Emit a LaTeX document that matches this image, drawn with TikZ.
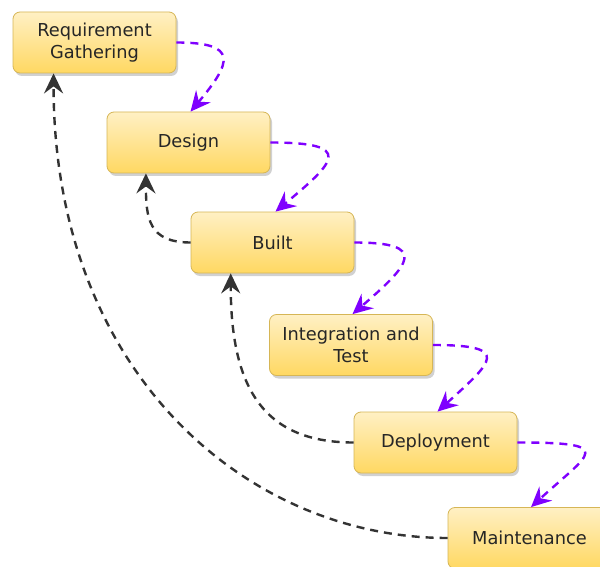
\documentclass[tikz,border=0pt]{standalone}
\usepackage{fontspec}
\setmainfont{DejaVu Sans}
\usetikzlibrary{arrows.meta,shadows,calc}
\definecolor{boxtop}{HTML}{FFF0C4}
\definecolor{boxbot}{HTML}{FFD862}
\definecolor{boxline}{HTML}{D6B656}
\definecolor{flowpurple}{HTML}{7F00FF}
\definecolor{backgray}{HTML}{333333}
\definecolor{txt}{HTML}{262626}
\tikzset{
  stagebox/.style={rectangle, rounded corners=7pt, draw=boxline, line width=0.8pt,
    top color=boxtop, bottom color=boxbot, minimum width=163pt, minimum height=61pt,
    inner sep=0pt, align=center, text=txt, font=\fontsize{17.8}{21.5}\selectfont,
    drop shadow={shadow xshift=2pt, shadow yshift=-3pt, opacity=0.18, fill=black}},
  fwd/.style={draw=flowpurple, line width=2.4pt, dash pattern=on 8pt off 6pt,
    -{Stealth[length=20pt, width=19pt, inset=7pt]}},
  back/.style={draw=backgray, line width=2.4pt, dash pattern=on 8pt off 6pt,
    -{Stealth[length=20pt, width=19pt, inset=7pt]}}
}
\begin{document}
\begin{tikzpicture}[x=1pt,y=-1pt]
\useasboundingbox[fill=white] (0,0) rectangle (600,567);
\node[stagebox] (req) at (94.5,42.5) {Requirement\\Gathering};
\node[stagebox] (design) at (188.5,142.5) {Design};
\node[stagebox] (built) at (272.5,242.5) {Built};
\node[stagebox] (integ) at (351,345) {Integration and\\Test};
\node[stagebox] (deploy) at (435.5,442.5) {Deployment};
\node[stagebox] (maint) at (529.5,538) {Maintenance};
\coordinate (t1) at ($(design.north)+(2,0)$);
\coordinate (t2) at ($(built.north)+(3,0)$);
\coordinate (t3) at ($(integ.north)+(1.5,0)$);
\coordinate (t4) at ($(deploy.north)+(2,0)$);
\coordinate (t5) at ($(maint.north)+(1.5,0)$);
\coordinate (b1) at ($(design.south west)!0.24!(design.south east)$);
\coordinate (b2) at ($(built.south west)!0.245!(built.south east)$);
\coordinate (b3) at ($(req.south west)!0.25!(req.south east)$);
\draw[fwd] (req.east) .. controls +(62,0) and +(42,-50) .. (t1);
\draw[fwd] (design.east) .. controls +(85,0) and +(60,-50) .. (t2);
\draw[fwd] (built.east) .. controls +(75,0) and +(58,-50) .. (t3);
\draw[fwd] (integ.east) .. controls +(80,0) and +(55,-50) .. (t4);
\draw[fwd] (deploy.east) .. controls +(100,0) and +(60,-55) .. (t5);
\draw[back] (built.west) .. controls +(-42,0) and +(0,45) .. (b1);
\draw[back] (deploy.west) .. controls +(-92,0) and +(0,112) .. (b2);
\draw[back] (maint.west) .. controls +(-200,0) and +(0,300) .. (b3);
\end{tikzpicture}
\end{document}
